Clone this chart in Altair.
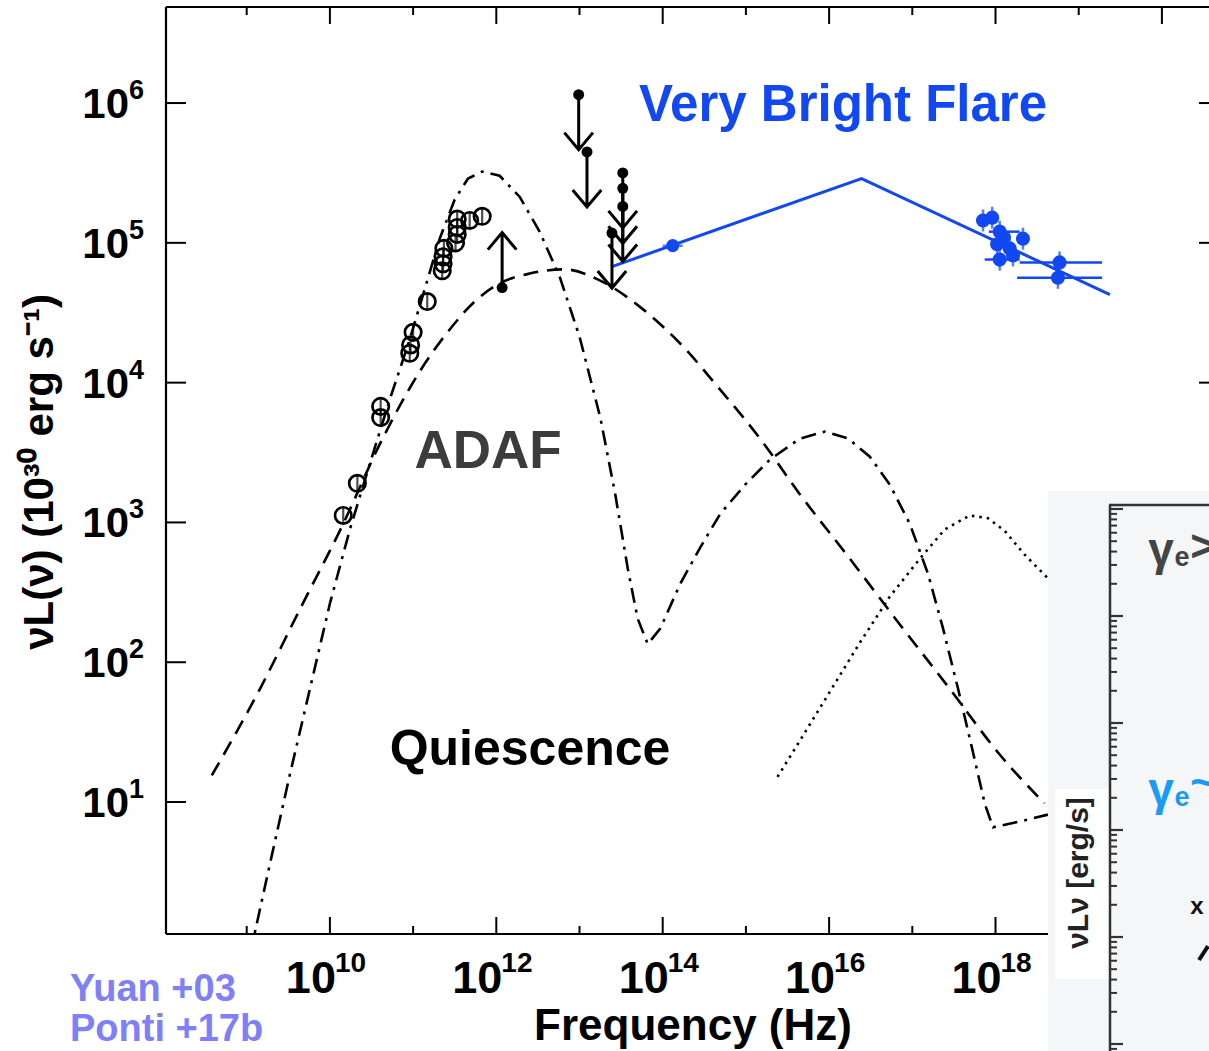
import altair as alt
import pandas as pd
import numpy as np

# ---------------- data (log10 values) ----------------
# ADAF total (dashed)
dash_lx = [8.58, 9.16, 9.64, 10.16, 10.60, 11.08, 11.44, 11.74, 12.04, 12.40, 12.82, 13.25, 13.73,
           14.21, 14.69, 15.17, 15.65, 16.25, 16.85, 17.45, 18.05, 18.59]
dash_ly = [1.19, 1.81, 2.38, 2.99, 3.56, 4.08, 4.38, 4.58, 4.71, 4.78, 4.81, 4.73, 4.54,
           4.28, 3.95, 3.60, 3.20, 2.74, 2.27, 1.81, 1.34, 0.99]
# synchrotron + IC bumps (dash-dot)
dd_lx = [9.04, 9.28, 9.52, 9.76, 10.00, 10.24, 10.48, 10.72, 10.96, 11.14, 11.32, 11.50, 11.66,
         11.83, 12.04, 12.28, 12.52, 12.76, 13.00, 13.25, 13.43, 13.58, 13.70, 13.82, 13.97,
         14.21, 14.45, 14.69, 14.99, 15.29, 15.65, 15.95, 16.23, 16.49, 16.73, 16.97, 17.19,
         17.37, 17.55, 17.72, 17.87, 17.97, 18.29, 18.63]
dd_ly = [-0.09, 0.56, 1.20, 1.81, 2.42, 2.95, 3.42, 3.88, 4.31, 4.67, 5.03, 5.31, 5.46,
         5.51, 5.48, 5.33, 5.08, 4.76, 4.33, 3.75, 3.20, 2.67, 2.31, 2.13, 2.24,
         2.56, 2.82, 3.06, 3.27, 3.45, 3.60, 3.65, 3.60, 3.47, 3.27, 2.99, 2.63,
         2.24, 1.81, 1.38, 0.99, 0.82, 0.86, 0.91]
# bremsstrahlung (dotted)
dot_lx = [15.38, 15.65, 16.01, 16.37, 16.73, 17.09, 17.39, 17.69, 17.91, 18.11, 18.35, 18.63]
dot_ly = [1.18, 1.44, 1.79, 2.14, 2.47, 2.74, 2.95, 3.05, 3.03, 2.94, 2.77, 2.60]
# flare broken power law (blue)
plaw_lx = [13.39, 16.39, 19.375]
plaw_ly = [4.83, 5.46, 4.63]
# radio / submm quiescent points (open circles)
radio_lx = [10.16, 10.33, 10.61, 10.61, 10.96, 10.97, 11.00, 11.17, 11.35, 11.36, 11.36, 11.37,
            11.51, 11.53, 11.53, 11.53, 11.68, 11.83]
radio_ly = [3.05, 3.28, 3.75, 3.83, 4.21, 4.27, 4.36, 4.58, 4.80, 4.85, 4.90, 4.96,
            5.00, 5.06, 5.11, 5.17, 5.16, 5.19]
# upper limits (filled black, arrows down)
ul_lx = [12.99, 13.09, 13.52, 13.52, 13.52, 13.39]
ul_ly = [6.06, 5.65, 5.50, 5.39, 5.26, 5.07]
# lower limit (arrow up)
ll_lx = [12.07]
ll_ly = [4.68]
# flare NIR point
nir_lx = [14.12]
nir_ly = [4.98]
# flare X-ray points
xr_lx = [17.85, 17.96, 18.05, 18.10, 18.02, 18.17, 18.33, 18.05, 18.21, 18.77, 18.75]
xr_ly = [5.16, 5.18, 5.08, 5.04, 4.99, 4.96, 5.03, 4.88, 4.91, 4.86, 4.75]
# horizontal error bars of some X-ray points
xbar_lo = [17.92, 17.87, 18.29, 18.26]
xbar_hi = [18.29, 18.29, 19.28, 19.28]
xbar_ly = [5.08, 4.88, 4.86, 4.75]
# axis ticks (decades)
x_major = [10, 12, 14, 16, 18, 20]
x_minor = [9, 11, 13, 15, 17, 19]
x_labels = [10, 12, 14, 16, 18]
y_major = [1, 2, 3, 4, 5, 6]

# ---------------- layout ----------------
XLO, XHI = 8.03, 20.566
YLO, YHI = 0.056, 6.687
W, H = 1043, 927
OX, OY = 166, 7           # plot origin on page
BLUE = "#1248f2"
FONT = "Liberation Sans"


def pts(lx, ly):
    return pd.DataFrame({"f": np.power(10.0, lx), "L": np.power(10.0, ly),
                         "i": np.arange(len(lx))})


xs = alt.Scale(type="log", domain=[10 ** XLO, 10 ** XHI], nice=False)
ys = alt.Scale(type="log", domain=[10 ** YLO, 10 ** YHI], nice=False)
X = alt.X("f:Q", scale=xs, axis=None)
Y = alt.Y("L:Q", scale=ys, axis=None)
X2 = alt.X2("f2:Q")
one = pd.DataFrame({"a": [0]})

layers = []

# curves
layers.append(alt.Chart(pts(dash_lx, dash_ly)).mark_line(
    color="black", strokeWidth=2.6, strokeDash=[15, 9], clip=True, interpolate="monotone").encode(x=X, y=Y, order="i:Q"))
layers.append(alt.Chart(pts(dd_lx, dd_ly)).mark_line(
    color="black", strokeWidth=2.6, strokeDash=[15, 7, 3, 7], clip=True).encode(x=X, y=Y, order="i:Q"))
layers.append(alt.Chart(pts(dot_lx, dot_ly)).mark_line(
    color="black", strokeWidth=2.6, strokeDash=[2.5, 5], clip=True).encode(x=X, y=Y, order="i:Q"))
layers.append(alt.Chart(pts(plaw_lx, plaw_ly)).mark_line(
    color=BLUE, strokeWidth=3, clip=True).encode(x=X, y=Y, order="i:Q"))

# radio open circles with small error bars
radio = pts(radio_lx, radio_ly)
layers.append(alt.Chart(radio).mark_tick(orient="vertical", size=17, thickness=2.2, color="black").encode(x=X, y=Y))
layers.append(alt.Chart(radio).mark_point(shape="circle", filled=False, size=270, strokeWidth=2.7,
                                          color="black", opacity=1).encode(x=X, y=Y))

# upper limits
ul = pts(ul_lx, ul_ly)
UL_PATH = "M0,0L0,1M-0.26,0.69L0,1L0.26,0.69"
LL_PATH = "M0,0L0,-1M-0.26,-0.69L0,-1L0.26,-0.69"
layers.append(alt.Chart(ul).mark_point(shape=UL_PATH, size=12100, filled=False, strokeWidth=3,
                                       color="black", opacity=1).encode(x=X, y=Y))
layers.append(alt.Chart(ul).mark_circle(size=120, color="black", opacity=1).encode(x=X, y=Y))
ll = pts(ll_lx, ll_ly)
layers.append(alt.Chart(ll).mark_point(shape=LL_PATH, size=12100, filled=False, strokeWidth=3,
                                       color="black", opacity=1).encode(x=X, y=Y))
layers.append(alt.Chart(ll).mark_circle(size=120, color="black", opacity=1).encode(x=X, y=Y))

# flare points
nir = pts(nir_lx, nir_ly)
layers.append(alt.Chart(nir).mark_tick(orient="horizontal", size=20, thickness=2.5, color=BLUE).encode(x=X, y=Y))
layers.append(alt.Chart(nir).mark_circle(size=170, color=BLUE, opacity=1).encode(x=X, y=Y))
xb = pd.DataFrame({"f": np.power(10.0, xbar_lo), "f2": np.power(10.0, xbar_hi),
                   "L": np.power(10.0, xbar_ly)})
layers.append(alt.Chart(xb).mark_rule(color=BLUE, strokeWidth=2.5).encode(x=X, x2=X2, y=Y))
xr = pts(xr_lx, xr_ly)
layers.append(alt.Chart(xr).mark_tick(orient="vertical", size=22, thickness=2.5, color=BLUE).encode(x=X, y=Y))
layers.append(alt.Chart(xr).mark_circle(size=200, color=BLUE, opacity=1).encode(x=X, y=Y))

# frame
layers.append(alt.Chart(one).mark_rule(color="black", strokeWidth=2.2).encode(
    x=alt.value(0), y=alt.value(0), y2=alt.value(H)))
layers.append(alt.Chart(one).mark_rule(color="black", strokeWidth=2.2).encode(
    y=alt.value(H), x=alt.value(0), x2=alt.value(W)))
layers.append(alt.Chart(one).mark_rule(color="black", strokeWidth=2.2).encode(
    y=alt.value(0), x=alt.value(0), x2=alt.value(W)))

# ticks
xmaj = pd.DataFrame({"f": np.power(10.0, x_major)})
xmin = pd.DataFrame({"f": np.power(10.0, x_minor)})
ymaj = pd.DataFrame({"L": np.power(10.0, y_major)})
for d, ln in ((xmaj, 17), (xmin, 8)):
    layers.append(alt.Chart(d).mark_rule(color="black", strokeWidth=2).encode(
        x=X, y=alt.value(H), y2=alt.value(H - ln)))
    layers.append(alt.Chart(d).mark_rule(color="black", strokeWidth=2).encode(
        x=X, y=alt.value(0), y2=alt.value(ln)))
layers.append(alt.Chart(ymaj).mark_rule(color="black", strokeWidth=2).encode(
    y=Y, x=alt.value(0), x2=alt.value(20)))
layers.append(alt.Chart(ymaj).mark_rule(color="black", strokeWidth=2).encode(
    y=Y, x=alt.value(W - 10), x2=alt.value(W)))

# tick labels  10^n
xl = pd.DataFrame({"f": np.power(10.0, x_labels), "e": [str(v) for v in x_labels]})
layers.append(alt.Chart(xl).mark_text(font=FONT, fontWeight="bold", fontSize=45, align="center",
                                      baseline="alphabetic", dx=-19, color="black").encode(
    x=X, y=alt.value(993 - OY), text=alt.value("10")))
layers.append(alt.Chart(xl).mark_text(font=FONT, fontWeight="bold", fontSize=28, align="left",
                                      baseline="alphabetic", dx=5, color="black").encode(
    x=X, y=alt.value(972 - OY), text="e:N"))
yl = pd.DataFrame({"L": np.power(10.0, y_major), "e": [str(v) for v in y_major]})
layers.append(alt.Chart(yl).mark_text(font=FONT, fontWeight="bold", fontSize=42, align="right",
                                      baseline="alphabetic", dy=15, color="black").encode(
    y=Y, x=alt.value(129 - OX), text=alt.value("10")))
layers.append(alt.Chart(yl).mark_text(font=FONT, fontWeight="bold", fontSize=27, align="left",
                                      baseline="alphabetic", dy=-4, color="black").encode(
    y=Y, x=alt.value(129 - OX), text="e:N"))


def label(txt, px, py, size, color="black", align="center", angle=0, weight="bold", baseline="alphabetic"):
    kw = dict(font=FONT, fontWeight=weight, fontSize=size, align=align, baseline=baseline, color=color)
    if angle:
        kw["angle"] = angle
    return alt.Chart(one).mark_text(**kw).encode(
        x=alt.value(px - OX), y=alt.value(py - OY), text=alt.value(txt))


layers.append(label("Very Bright Flare", 843, 121, 51, color=BLUE))
layers.append(label("ADAF", 488, 468, 53, color="#3c3c3c"))
layers.append(label("Quiescence", 530, 765, 50))
layers.append(label("Frequency (Hz)", 693, 1040, 44))
layers.append(label("νL(ν) (10³⁰ erg s⁻¹)", 40, 472, 42, angle=270, baseline="middle"))
layers.append(label("Yuan +03", 70, 1001, 38, color="#7f7ff8", align="left"))
layers.append(label("Ponti +17b", 70, 1041, 38, color="#7f7ff8", align="left"))


# ---------------- inset (pasted panel at lower right) ----------------
def rect(x0, y0, x1, y1, color):
    return alt.Chart(one).mark_rect(color=color, opacity=1).encode(
        x=alt.value(x0 - OX), x2=alt.value(x1 - OX), y=alt.value(y0 - OY), y2=alt.value(y1 - OY))


def seg(x0, y0, x1, y1, color="#333333", w=2.5):
    return alt.Chart(one).mark_rule(color=color, strokeWidth=w).encode(
        x=alt.value(x0 - OX), x2=alt.value(x1 - OX), y=alt.value(y0 - OY), y2=alt.value(y1 - OY))


layers.append(rect(1048, 491, 1215, 1060, "#f5f6f8"))
layers.append(rect(1055, 789, 1110, 979, "#ffffff"))
layers.append(seg(1110, 505, 1110, 1060))
layers.append(seg(1109, 505, 1215, 505))
for b in range(509, 1060, 107):
    layers.append(seg(1110, b, 1123, b, w=2.2))
    for k in range(2, 10):
        yy = b + 107 - 107 * np.log10(k)
        if yy < 1051:
            layers.append(seg(1110, yy, 1117, yy, w=2))
layers.append(label("νLν [erg/s]", 1079, 873, 30, color="#222222", angle=270, baseline="middle"))
layers.append(label("γ", 1161, 565, 46, color="#444444"))
layers.append(label("e", 1182, 566, 27, color="#444444"))
layers.append(label(">", 1203, 561, 44, color="#444444"))
layers.append(label("γ", 1161, 805, 46, color="#1a9af2"))
layers.append(label("e", 1182, 806, 27, color="#1a9af2"))
layers.append(label("~", 1203, 797, 44, color="#1a9af2"))
layers.append(label("x", 1197, 914, 24, color="#111111"))
layers.append(seg(1199, 960, 1208, 946, color="#111111", w=4))

chart = alt.layer(*layers).properties(
    width=W, height=H,
    autosize=alt.AutoSizeParams(type="none"),
    padding={"left": OX, "top": OY, "right": 0, "bottom": 1051 - OY - H},
    background="white",
).configure_view(stroke=None)

chart.save("out.html", embed_options={"renderer": "svg", "actions": False})
